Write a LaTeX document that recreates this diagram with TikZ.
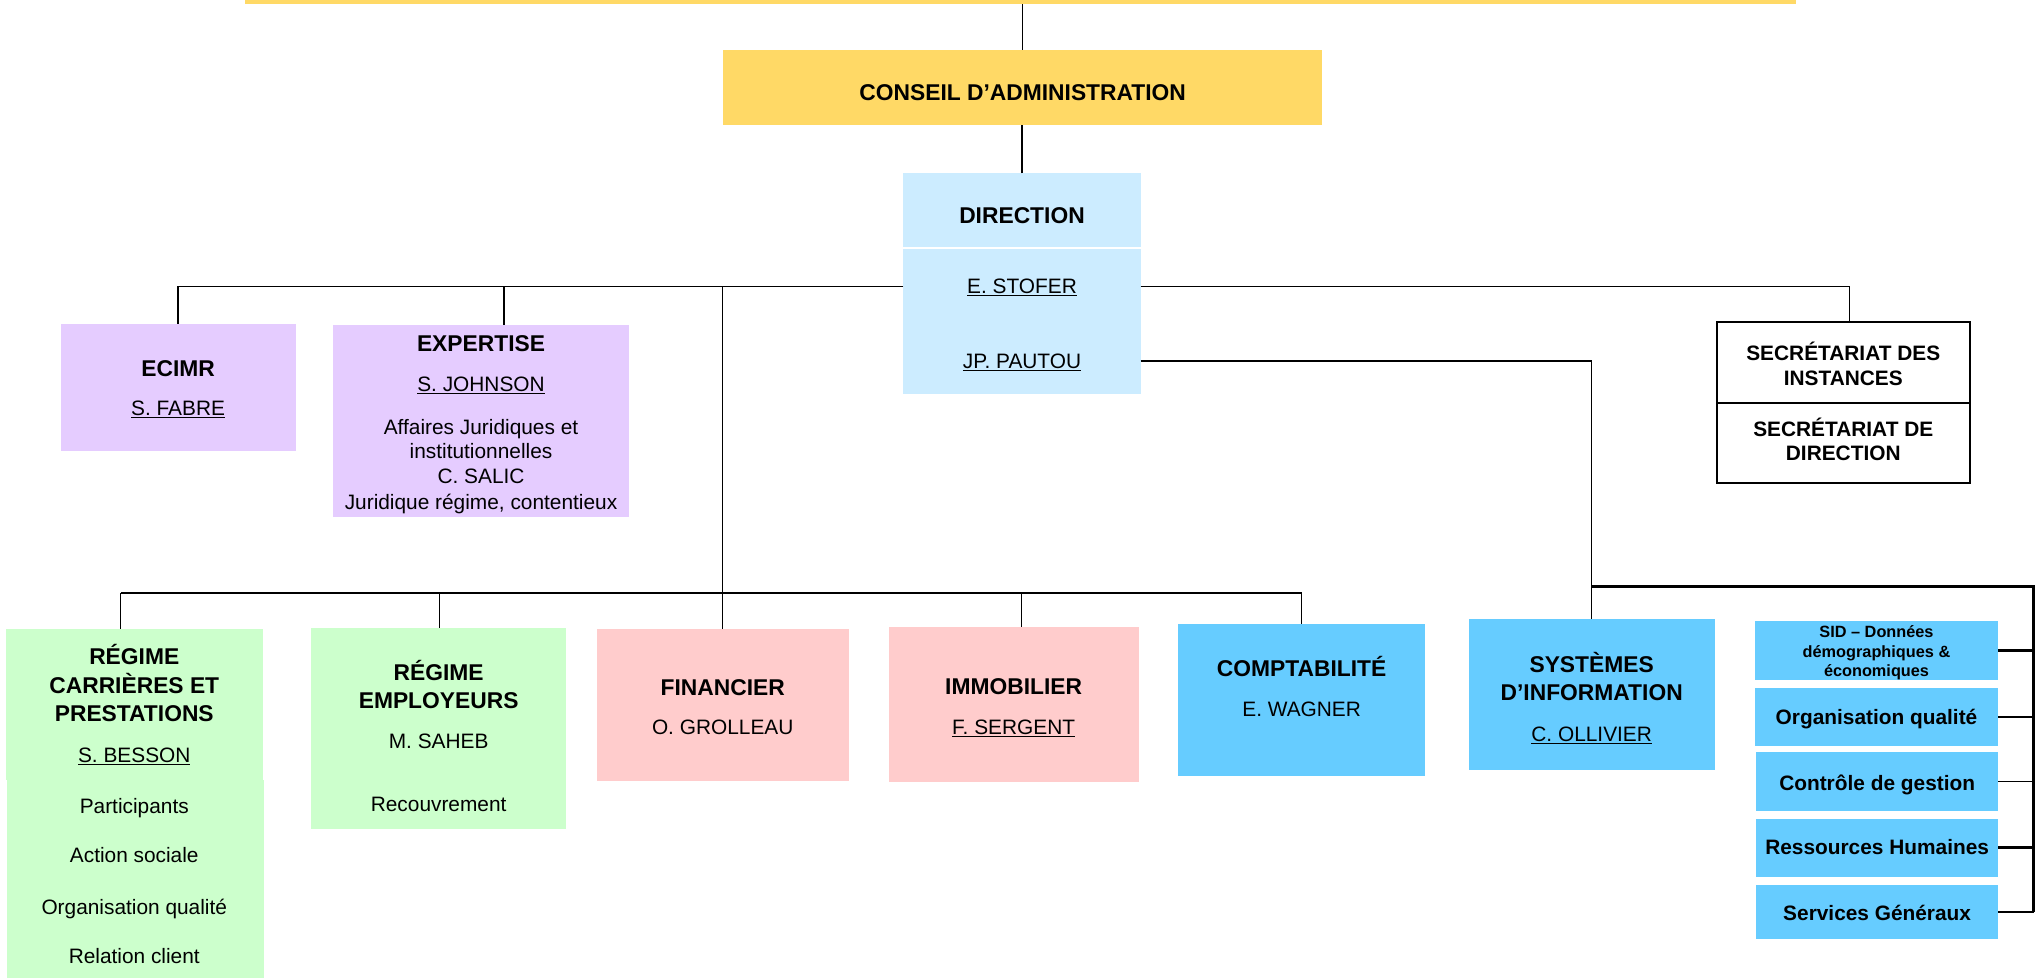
\documentclass[tikz,border=0pt]{standalone}
\usepackage{fontspec}
\setmainfont{Liberation Sans}
\definecolor{cyel}{RGB}{255,217,102}
\definecolor{cdir}{RGB}{204,236,255}
\definecolor{clav}{RGB}{229,204,255}
\definecolor{cgrn}{RGB}{204,255,204}
\definecolor{cpnk}{RGB}{255,204,204}
\definecolor{cblu}{RGB}{102,204,255}
\newcommand\orgbox[6]{\node[box, fill=#6, minimum width={(#4-#2)*1pt}, minimum height={(#5-#3)*1pt}] (#1) at ({(#2+#4)/2},{(#3+#5)/2}) {};}
\begin{document}
\begin{tikzpicture}[x=1pt,y=-1pt,
  box/.style={inner sep=0pt, outer sep=0pt, draw=none},
  hb/.style={font=\fontsize{17.5}{20}\selectfont\bfseries, anchor=base, yshift=-6.3pt, inner sep=0pt},
  rg/.style={font=\fontsize{16}{19}\selectfont, anchor=base, yshift=-5.7pt, inner sep=0pt},
  sb/.style={font=\fontsize{16}{19}\selectfont\bfseries, anchor=base, yshift=-5.7pt, inner sep=0pt},
  tb/.style={font=\fontsize{12.5}{14}\selectfont\bfseries, anchor=base, yshift=-4.5pt, inner sep=0pt},
  ln/.style={line width=1pt, black},
  lnk/.style={line width=1.8pt, black},
  secbox/.style={draw=black, line width=1.5pt, fill=white, inner sep=0pt, outer sep=0pt}]
\useasboundingbox[fill=white] (0,0) rectangle (1568,751);

% boxes
\orgbox{topbar}{188}{-10}{1378}{3}{cyel}
\orgbox{conseil}{555}{38}{1014}{96}{cyel}
\orgbox{dirtop}{693}{133}{875}{189.5}{cdir}
\orgbox{dirbot}{693}{191}{875}{302.5}{cdir}
\orgbox{ecimr}{46.6}{248.6}{226.7}{346}{clav}
\orgbox{expert}{255.5}{249.3}{482.5}{396.4}{clav}
\node[secbox, minimum width=194pt, minimum height=61.9pt] (secA) at (1414,277.95) {};
\node[secbox, minimum width=194pt, minimum height=61.9pt] (secB) at (1414,339.85) {};
\orgbox{regcA}{4.5}{482.5}{201.4}{598.4}{cgrn}
\orgbox{regcB}{5.5}{598.4}{202.4}{750}{cgrn}
\orgbox{rege}{238.7}{482}{434.3}{635.7}{cgrn}
\orgbox{fin}{457.6}{482.5}{651.1}{599}{cpnk}
\orgbox{immo}{681.6}{481}{873.7}{600}{cpnk}
\orgbox{compta}{904}{479}{1093}{595}{cblu}
\orgbox{sys}{1126.7}{475}{1315.6}{590.7}{cblu}
\orgbox{sid}{1346}{476}{1533}{522}{cblu}
\orgbox{oq}{1346}{528}{1533}{572}{cblu}
\orgbox{cg}{1347}{577}{1533}{622}{cblu}
\orgbox{rh}{1347}{628}{1533}{672.5}{cblu}
\orgbox{sg}{1347}{679}{1533}{720.5}{cblu}

% connector points
\coordinate (sto) at (784,220);
\coordinate (pau) at (1221,277);
\coordinate (low) at (92.5,455);
\coordinate (lowR) at (998.6,455);
\coordinate (rail) at (1560,450);
\coordinate (dEX) at (386.6,220);
\coordinate (dSE) at (1419,220);
\coordinate (dRE) at (337.3,455);
\coordinate (dIM) at (783.6,455);

% connectors
\draw[ln] (conseil.north) -- (conseil.north |- topbar.south);
\draw[ln] (dirtop.north) -- (dirtop.north |- conseil.south);
\draw[ln] (sto -| dirbot.west) -| (ecimr.north);
\draw[ln] (dEX) -- (dEX |- expert.north);
\draw[ln] (sto -| fin.north) -- (fin.north);
\draw[ln] (sto -| dirbot.east) -- (dSE) -- (dSE |- secA.north);
\draw[ln] (low) -- (lowR) -- (lowR |- compta.north);
\draw[ln] (low) -- (low |- regcA.north);
\draw[ln] (dRE) -- (dRE |- rege.north);
\draw[ln] (dIM) -- (dIM |- immo.north);
\draw[lnk] (pau -| dirbot.east) -- (pau);
\draw[ln] (pau) -- (pau |- sys.north);
\draw[lnk] (pau |- rail) -- (rail) -- (rail |- sg.east);
\draw[lnk] (sid.east) -- (sid.east -| rail);
\draw[lnk] (oq.east) -- (oq.east -| rail);
\draw[ln] (cg.east) -- (cg.east -| rail);
\draw[lnk] (rh.east) -- (rh.east -| rail);
\draw[lnk] (sg.east) -- (sg.east -| rail);

% texts
\node[hb] (t1) at (784.5,71) {CONSEIL D’ADMINISTRATION};
\node[hb] (t2) at (784,165) {DIRECTION};
\node[rg] (t3) at (784,219.5) {\underline{E. STOFER}};
\node[rg] (t4) at (784,276.7) {\underline{JP. PAUTOU}};

\node[hb] (t5) at (136.6,282.6) {ECIMR};
\node[rg] (t6) at (136.6,313.2) {\underline{S. FABRE}};

\node[hb] (t7) at (369,263) {EXPERTISE};
\node[rg] (t8) at (369,294.6) {\underline{S. JOHNSON}};
\node[rg] (t9) at (369,327.3) {Affaires Juridiques et};
\node[rg] (t10) at (369,346) {institutionnelles};
\node[rg] (t11) at (369,365) {C. SALIC};
\node[rg] (t12) at (369,385.4) {Juridique régime, contentieux};

\node[sb] (t13) at (1414,270.5) {SECRÉTARIAT DES};
\node[sb] (t14) at (1414,290.2) {INSTANCES};
\node[sb] (t15) at (1414,328.8) {SECRÉTARIAT DE};
\node[sb] (t16) at (1414,347.8) {DIRECTION};

\node[hb] (t17) at (103,503.7) {RÉGIME};
\node[hb] (t18) at (103,525.5) {CARRIÈRES ET};
\node[hb] (t19) at (103,547) {PRESTATIONS};
\node[rg] (t20) at (103,579) {\underline{S. BESSON}};
\node[rg] (t21) at (103,618) {Participants};
\node[rg] (t22) at (103,656) {Action sociale};
\node[rg] (t23) at (103,696) {Organisation qualité};
\node[rg] (t24) at (103,733.4) {Relation client};

\node[hb] (t25) at (336.5,515.5) {RÉGIME};
\node[hb] (t26) at (336.5,537) {EMPLOYEURS};
\node[rg] (t27) at (336.5,568.5) {M. SAHEB};
\node[rg] (t28) at (336.5,616.8) {Recouvrement};

\node[hb] (t29) at (554.4,527) {FINANCIER};
\node[rg] (t30) at (554.4,558) {O. GROLLEAU};

\node[hb] (t31) at (777.6,526.8) {IMMOBILIER};
\node[rg] (t32) at (777.6,557.5) {\underline{F. SERGENT}};

\node[hb] (t33) at (998.5,512.5) {COMPTABILITÉ};
\node[rg] (t34) at (998.5,544) {E. WAGNER};

\node[hb] (t35) at (1221,509.6) {SYSTÈMES};
\node[hb] (t36) at (1221,531) {D’INFORMATION};
\node[rg] (t37) at (1221,563) {\underline{C. OLLIVIER}};

\node[tb] (t38) at (1439.5,484.6) {SID – Données};
\node[tb] (t39) at (1439.5,499.9) {démographiques \&};
\node[tb] (t40) at (1439.5,514.5) {économiques};
\node[sb] (t41) at (1439.5,549.8) {Organisation qualité};
\node[sb] (t42) at (1440,601) {Contrôle de gestion};
\node[sb] (t43) at (1440,650) {Ressources Humaines};
\node[sb] (t44) at (1440,700.6) {Services Généraux};
\end{tikzpicture}
\end{document}
